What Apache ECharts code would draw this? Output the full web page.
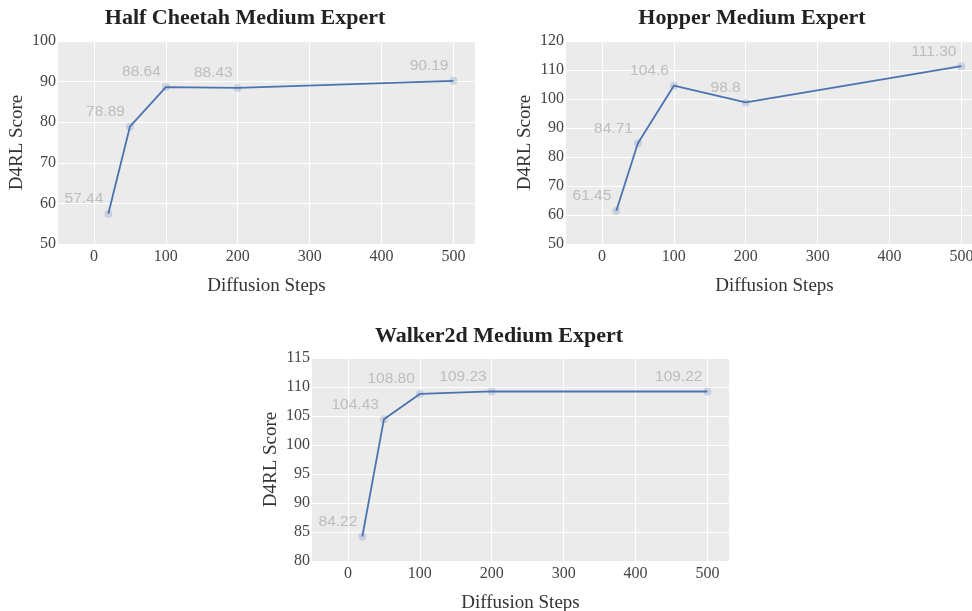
<!DOCTYPE html>
<html>
<head>
<meta charset="utf-8">
<title>D4RL Score vs Diffusion Steps</title>
<script src="https://cdn.jsdelivr.net/npm/echarts@6/dist/echarts.min.js"></script>
<style>
  html, body { margin: 0; padding: 0; background: #ffffff; }
  #chart { width: 972px; height: 611px; }
</style>
</head>
<body>
<div id="chart"></div>
<script>
// Diffusion steps used for every environment
const diffusionSteps = [20, 50, 100, 200, 500];

// Scores, written exactly as printed beside each point
const halfCheetahScores = ['57.44', '78.89', '88.64', '88.43', '90.19'];
const hopperScores = ['61.45', '84.71', '104.6', '98.8', '111.30'];
const walker2dScores = ['84.22', '104.43', '108.80', '109.23', '109.22'];

// Tick values
const xTicks = [0, 100, 200, 300, 400, 500];
const halfCheetahYTicks = { min: 50, max: 100, step: 10 };
const hopperYTicks = { min: 50, max: 120, step: 10 };
const walker2dYTicks = { min: 80, max: 115, step: 5 };

const panelTitles = ['Half Cheetah Medium Expert', 'Hopper Medium Expert', 'Walker2d Medium Expert'];
const xAxisTitle = 'Diffusion Steps';
const yAxisTitle = 'D4RL Score';

const SERIF = "'Liberation Serif', 'DejaVu Serif', serif";
const SANS = "'Liberation Sans', Arial, sans-serif";
const LINE_BLUE = '#4c72b0';

// The Hopper panel runs slightly past the right edge of the page
const panels = [
  { title: panelTitles[0], scores: halfCheetahScores, y: halfCheetahYTicks,
    grid: { left: 58, top: 41, width: 417, height: 203 }, titleX: 245, titleY: 18 },
  { title: panelTitles[1], scores: hopperScores, y: hopperYTicks,
    grid: { left: 566, top: 41, width: 417, height: 203 }, titleX: 752, titleY: 18 },
  { title: panelTitles[2], scores: walker2dScores, y: walker2dYTicks,
    grid: { left: 312, top: 358, width: 417, height: 203 }, titleX: 499, titleY: 336 }
];

const option = {
  animation: false,
  backgroundColor: '#ffffff',
  title: panels.map(p => ({
    text: p.title,
    left: p.titleX,
    top: p.titleY,
    padding: 0,
    textAlign: 'center',
    textVerticalAlign: 'middle',
    textStyle: { fontFamily: SERIF, fontWeight: 'bold', fontSize: 22, color: '#222222' }
  })),
  grid: panels.map(p => Object.assign({
    show: true,
    backgroundColor: '#ebebeb',
    borderWidth: 0,
    containLabel: false,
    outerBoundsMode: 'none'
  }, p.grid)),
  xAxis: panels.map((p, i) => ({
    type: 'value',
    gridIndex: i,
    min: -50,
    max: 530,
    name: xAxisTitle,
    nameLocation: 'middle',
    nameGap: 33,
    nameTextStyle: { fontFamily: SERIF, fontSize: 19, color: '#333333' },
    axisLine: { show: false },
    axisTick: { show: false, customValues: xTicks },
    axisLabel: {
      customValues: xTicks,
      margin: 5,
      fontFamily: SERIF, fontSize: 16, color: '#444444'
    },
    splitLine: { show: true, lineStyle: { color: '#ffffff', width: 1 } }
  })),
  yAxis: panels.map((p, i) => ({
    type: 'value',
    gridIndex: i,
    min: p.y.min,
    max: p.y.max,
    interval: p.y.step,
    name: yAxisTitle,
    nameLocation: 'middle',
    nameGap: 31,
    nameTextStyle: { fontFamily: SERIF, fontSize: 19, color: '#333333' },
    axisLine: { show: false },
    axisTick: { show: false },
    axisLabel: { margin: 2, fontFamily: SERIF, fontSize: 16, color: '#444444' },
    splitLine: { show: true, lineStyle: { color: '#ffffff', width: 1 } }
  })),
  series: panels.map((p, i) => ({
    type: 'line',
    xAxisIndex: i,
    yAxisIndex: i,
    data: diffusionSteps.map((s, k) => [s, Number(p.scores[k]), p.scores[k]]),
    symbol: 'circle',
    symbolSize: 8,
    itemStyle: { color: 'rgba(76,114,176,0.22)', borderWidth: 0 },
    lineStyle: { color: LINE_BLUE, width: 1.8 },
    emphasis: { disabled: true },
    label: {
      show: true,
      position: 'top',
      align: 'right',
      distance: 3,
      offset: [-5, 0],
      formatter: params => params.value[2],
      fontFamily: SANS,
      fontSize: 15.5,
      color: '#bdbdbd'
    },
    z: 3
  }))
};

const chart = echarts.init(document.getElementById('chart'), null, { renderer: 'canvas' });
chart.setOption(option);
</script>
</body>
</html>
